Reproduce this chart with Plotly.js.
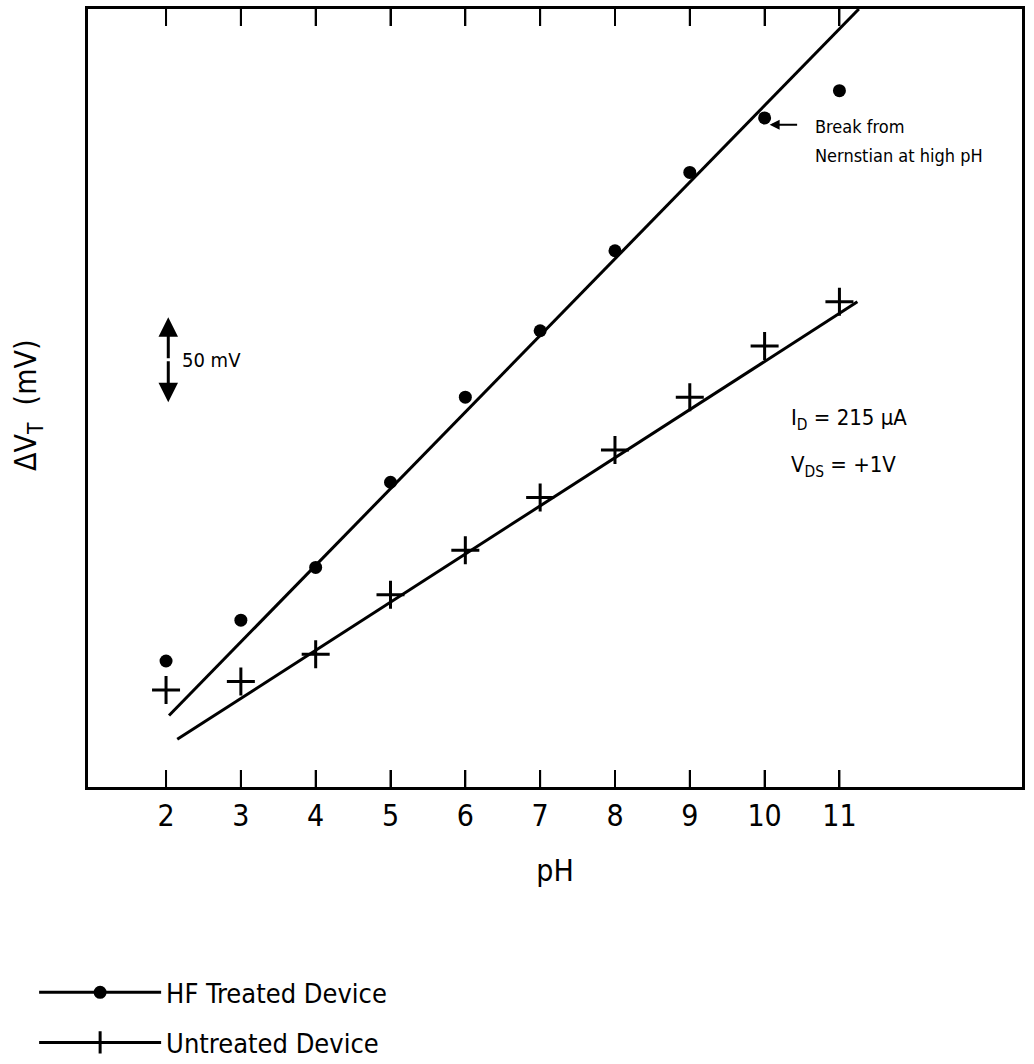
<!DOCTYPE html>
<html>
<head>
<meta charset="utf-8">
<script src="https://cdn.plot.ly/plotly-3.0.1.min.js"></script>
<style>html,body{margin:0;padding:0;background:#fff}#chart{width:1034px;height:1064px}</style>
</head>
<body>
<div id="chart"></div>
<script>
// pH values
const pH = [2, 3, 4, 5, 6, 7, 8, 9, 10, 11];
// ΔV_T in mV (relative; 50 mV scale bar)
const hfTreated = [74, 98, 129, 179, 229, 268, 315, 361, 393, 409];
const untreated = [57, 62, 78, 113, 139, 170, 198, 229, 259, 285];
// straight-line fits drawn on the figure
const hfFitX = [2.04, 11.26];
const hfFitY = [42, 457];
const untrFitX = [2.15, 11.24];
const untrFitY = [28, 285];
// scale bar (50 mV) position
const barX = 2.03;
const barY = [226, 276];
const seriesNames = ['HF Treated Device', 'Untreated Device'];
const tickVals = pH;
const tickText = pH.map(String);

const FONT = "DejaVu Sans Condensed, DejaVu Sans, Liberation Sans, sans-serif";

const traces = [
  {x: hfFitX, y: hfFitY, mode: 'lines', line: {color: '#000', width: 3}, showlegend: false, hoverinfo: 'skip'},
  {x: untrFitX, y: untrFitY, mode: 'lines', line: {color: '#000', width: 3}, showlegend: false, hoverinfo: 'skip'},
  {x: pH, y: hfTreated, mode: 'markers', name: seriesNames[0], showlegend: false,
   marker: {symbol: 'circle', size: 13, color: '#000'}},
  {x: pH, y: untreated, mode: 'markers', name: seriesNames[1], showlegend: false,
   marker: {symbol: 'cross-thin', size: 20, color: '#000', line: {color: '#000', width: 3}}},
  // legend keys (no data): line with marker, as in the figure's key
  {x: [null], y: [null], mode: 'lines+markers', name: seriesNames[0], legendgroup: 'a',
   line: {color: '#000', width: 3}, marker: {symbol: 'circle', size: 13, color: '#000'}},
  {x: [null], y: [null], mode: 'lines+markers', name: seriesNames[1], legendgroup: 'b',
   line: {color: '#000', width: 3},
   marker: {symbol: 'cross-thin', size: 18, color: '#000', line: {color: '#000', width: 3}}}
];

const barMid = (barY[0] + barY[1]) / 2;
const txt = (s, x, y, size) => ({x: x, y: y, xref: 'x', yref: 'y', xanchor: 'left', yanchor: 'middle',
  align: 'left', text: s, showarrow: false, font: {size: size, family: FONT, color: '#000'}});

const annotations = [
  {x: -0.064, y: 0.49, xref: 'paper', yref: 'paper', xanchor: 'center', yanchor: 'middle',
   textangle: -90, text: 'ΔV<sub>T</sub>  (mV)', showarrow: false,
   font: {size: 30, family: FONT, color: '#000'}},
  {x: barX, y: barY[1], ax: barX, ay: barMid, axref: 'x', ayref: 'y', xref: 'x', yref: 'y',
   text: '', showarrow: true, arrowhead: 2, arrowsize: 1.3, arrowwidth: 3, arrowcolor: '#000'},
  {x: barX, y: barY[0], ax: barX, ay: barMid, axref: 'x', ayref: 'y', xref: 'x', yref: 'y',
   text: '', showarrow: true, arrowhead: 2, arrowsize: 1.3, arrowwidth: 3, arrowcolor: '#000'},
  txt('50 mV', barX + 0.15, barMid, 20),
  {x: pH[8], y: hfTreated[8] - 4, xref: 'x', yref: 'y', text: '', showarrow: true,
   ax: 34, ay: 0, arrowhead: 2, arrowsize: 1, arrowwidth: 2, arrowcolor: '#000', standoff: 5},
  txt('Break from', 10.64, 388, 18),
  txt('Nernstian at high pH', 10.64, 371, 18),
  txt('I<sub>D</sub> = 215 μA', 10.32, 216, 22),
  txt('V<sub>DS</sub> = +1V', 10.32, 188, 22)
];

// inward tick marks on the bottom and top edges, placed on the x scale at each pH tick
const tickShapes = tickVals.flatMap(v => [
  {type: 'line', xref: 'x', yref: 'paper', x0: v, x1: v, ysizemode: 'pixel', yanchor: 0,
   y0: 0, y1: 17, line: {color: '#000', width: 2}},
  {type: 'line', xref: 'x', yref: 'paper', x0: v, x1: v, ysizemode: 'pixel', yanchor: 1,
   y0: 0, y1: -17, line: {color: '#000', width: 2}}
]);

const layout = {
  width: 1034, height: 1064,
  margin: {l: 88, r: 12, t: 9, b: 277, autoexpand: false},
  paper_bgcolor: '#fff', plot_bgcolor: '#fff',
  font: {family: FONT, color: '#000'},
  showlegend: true,
  legend: {
    xref: 'container', yref: 'container', x: 0.033, y: 0.09, xanchor: 'left', yanchor: 'top',
    font: {size: 27, family: FONT, color: '#000'}, tracegroupgap: 12, itemwidth: 122,
    bgcolor: 'rgba(0,0,0,0)'
  },
  xaxis: {
    range: [0.957, 13.44], showgrid: false, zeroline: false,
    showline: true, linecolor: '#000', linewidth: 3, mirror: 'allticks',
    ticks: 'inside', ticklen: 17, tickwidth: 2, tickcolor: '#000',
    tickvals: tickVals, ticktext: tickText,
    tickfont: {size: 30, family: FONT, color: '#000'},
    title: {text: 'pH', font: {size: 30, family: FONT, color: '#000'}, standoff: 28}
  },
  yaxis: {
    range: [0, 457], showgrid: false, zeroline: false,
    showline: true, linecolor: '#000', linewidth: 3, mirror: true,
    ticks: '', showticklabels: false
  },
  shapes: tickShapes,
  annotations: annotations
};

Plotly.newPlot('chart', traces, layout, {displayModeBar: false, staticPlot: true});
</script>
</body>
</html>
